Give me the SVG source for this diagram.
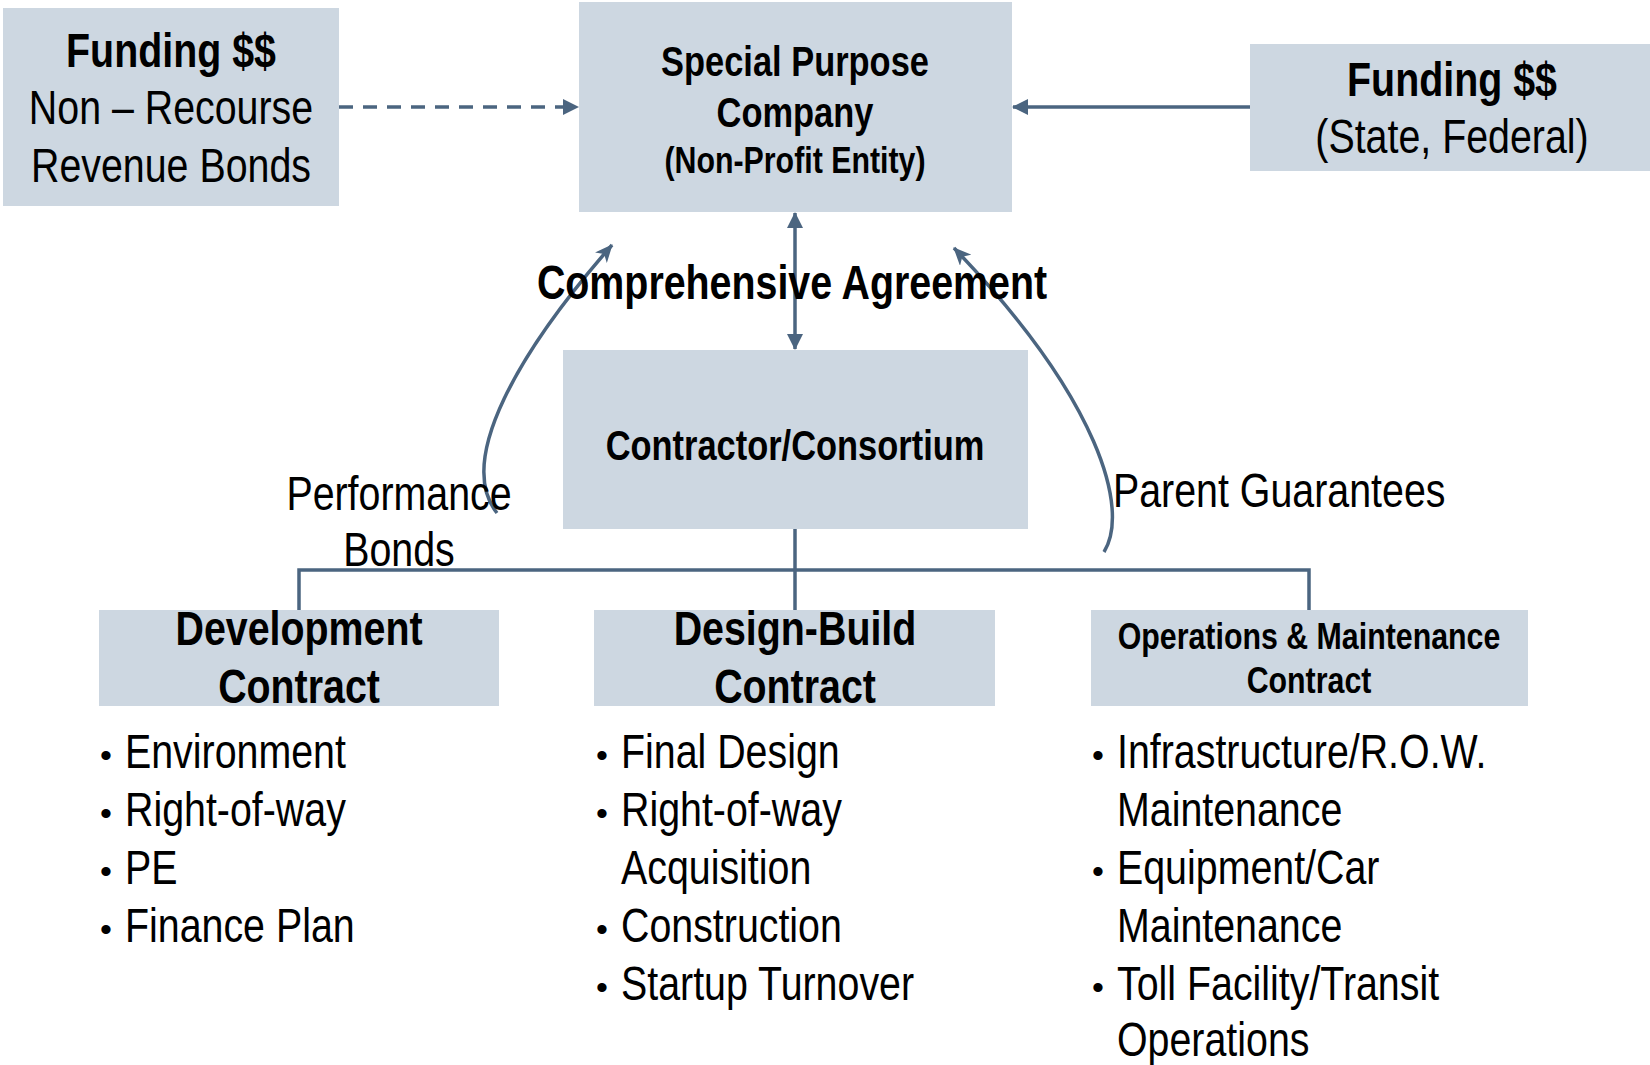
<svg xmlns="http://www.w3.org/2000/svg" width="1650" height="1065" viewBox="0 0 1650 1065">
<defs>
<style>
.box{fill:#cdd7e1}
.t{font-family:"Liberation Sans",Arial,sans-serif;fill:#000;text-anchor:middle}
.b{font-weight:bold}
.l{text-anchor:start}
.f48{font-size:48px}
.f42{font-size:42px}
.f37{font-size:37px}
.bul{font-size:34px}
.con{fill:none;stroke:#4b6580;stroke-width:3.5}
</style>
<marker id="tri" viewBox="0 0 16 16" markerUnits="userSpaceOnUse" markerWidth="16" markerHeight="16" refX="15" refY="8" orient="auto-start-reverse">
<path d="M0,0 L16,8 L0,16 z" fill="#4b6580"/>
</marker>
<marker id="stl" viewBox="0 0 18 16" markerUnits="userSpaceOnUse" markerWidth="18" markerHeight="16" refX="17" refY="8" orient="auto">
<path d="M0,0 L18,8 L0,16 L5,8 z" fill="#4b6580"/>
</marker>
</defs>
<rect width="1650" height="1065" fill="#fff"/>
<g id="connectors">
<line class="con" x1="339" y1="107" x2="578" y2="107" stroke-dasharray="14 10" marker-end="url(#tri)"/>
<line class="con" x1="1250" y1="107" x2="1013" y2="107" marker-end="url(#tri)"/>
<line class="con" x1="795" y1="213" x2="795" y2="349" marker-start="url(#tri)" marker-end="url(#tri)"/>
<path class="con" d="M497,513 C455,460 520,350 612,245" marker-end="url(#stl)"/>
<path class="con" d="M1104,552 C1130,510 1100,400 954,248" marker-end="url(#stl)"/>
<polyline class="con" points="299,610 299,570 1309,570 1309,610"/>
<line class="con" x1="795" y1="529" x2="795" y2="610"/>
</g>
<g id="funding-bonds">
<rect class="box" x="3" y="8" width="336" height="198"/>
<text class="t b f48" transform="matrix(.82 0 0 1 171 0)" x="0" y="67">Funding $$</text>
<text class="t f48" transform="matrix(.82 0 0 1 171 0)" x="0" y="124">Non – Recourse</text>
<text class="t f48" transform="matrix(.82 0 0 1 171 0)" x="0" y="182">Revenue Bonds</text>
</g>
<g id="spc">
<rect class="box" x="579" y="2" width="433" height="210"/>
<text class="t b f42" transform="matrix(.82 0 0 1 795 0)" x="0" y="76">Special Purpose</text>
<text class="t b f42" transform="matrix(.82 0 0 1 795 0)" x="0" y="127">Company</text>
<text class="t b f37" transform="matrix(.82 0 0 1 795 0)" x="0" y="173">(Non-Profit Entity)</text>
</g>
<g id="funding-state">
<rect class="box" x="1250" y="44" width="400" height="127"/>
<text class="t b f48" transform="matrix(.82 0 0 1 1452 0)" x="0" y="96">Funding $$</text>
<text class="t f48" transform="matrix(.82 0 0 1 1452 0)" x="0" y="153">(State, Federal)</text>
</g>
<g id="label-agreement">
<text class="t b f48" transform="matrix(.82 0 0 1 792 0)" x="0" y="299">Comprehensive Agreement</text>
</g>
<g id="contractor">
<rect class="box" x="563" y="350" width="465" height="179"/>
<text class="t b f42" transform="matrix(.82 0 0 1 795 0)" x="0" y="460">Contractor/Consortium</text>
</g>
<g id="label-performance">
<text class="t f48" transform="matrix(.82 0 0 1 399 0)" x="0" y="510">Performance</text>
<text class="t f48" transform="matrix(.82 0 0 1 399 0)" x="0" y="566">Bonds</text>
</g>
<g id="label-parent">
<text class="t l f48" transform="matrix(.82 0 0 1 1113 0)" x="0" y="507">Parent Guarantees</text>
</g>
<g id="development">
<rect class="box" x="99" y="610" width="400" height="96"/>
<text class="t b f48" transform="matrix(.82 0 0 1 299 0)" x="0" y="645">Development</text>
<text class="t b f48" transform="matrix(.82 0 0 1 299 0)" x="0" y="703">Contract</text>
<text class="t l bul" x="100" y="767">•</text>
<text class="t l f48" transform="matrix(.82 0 0 1 125 0)" x="0" y="768">Environment</text>
<text class="t l bul" x="100" y="825">•</text>
<text class="t l f48" transform="matrix(.82 0 0 1 125 0)" x="0" y="826">Right-of-way</text>
<text class="t l bul" x="100" y="883">•</text>
<text class="t l f48" transform="matrix(.82 0 0 1 125 0)" x="0" y="884">PE</text>
<text class="t l bul" x="100" y="941">•</text>
<text class="t l f48" transform="matrix(.82 0 0 1 125 0)" x="0" y="942">Finance Plan</text>
</g>
<g id="design-build">
<rect class="box" x="594" y="610" width="401" height="96"/>
<text class="t b f48" transform="matrix(.82 0 0 1 795 0)" x="0" y="645">Design-Build</text>
<text class="t b f48" transform="matrix(.82 0 0 1 795 0)" x="0" y="703">Contract</text>
<text class="t l bul" x="596" y="767">•</text>
<text class="t l f48" transform="matrix(.82 0 0 1 621 0)" x="0" y="768">Final Design</text>
<text class="t l bul" x="596" y="825">•</text>
<text class="t l f48" transform="matrix(.82 0 0 1 621 0)" x="0" y="826">Right-of-way</text>
<text class="t l f48" transform="matrix(.82 0 0 1 621 0)" x="0" y="884">Acquisition</text>
<text class="t l bul" x="596" y="941">•</text>
<text class="t l f48" transform="matrix(.82 0 0 1 621 0)" x="0" y="942">Construction</text>
<text class="t l bul" x="596" y="999">•</text>
<text class="t l f48" transform="matrix(.82 0 0 1 621 0)" x="0" y="1000">Startup Turnover</text>
</g>
<g id="om">
<rect class="box" x="1091" y="610" width="437" height="96"/>
<text class="t b f37" transform="matrix(.82 0 0 1 1309 0)" x="0" y="649">Operations &amp; Maintenance</text>
<text class="t b f37" transform="matrix(.82 0 0 1 1309 0)" x="0" y="693">Contract</text>
<text class="t l bul" x="1092" y="767">•</text>
<text class="t l f48" transform="matrix(.82 0 0 1 1117 0)" x="0" y="768">Infrastructure/R.O.W.</text>
<text class="t l f48" transform="matrix(.82 0 0 1 1117 0)" x="0" y="826">Maintenance</text>
<text class="t l bul" x="1092" y="883">•</text>
<text class="t l f48" transform="matrix(.82 0 0 1 1117 0)" x="0" y="884">Equipment/Car</text>
<text class="t l f48" transform="matrix(.82 0 0 1 1117 0)" x="0" y="942">Maintenance</text>
<text class="t l bul" x="1092" y="999">•</text>
<text class="t l f48" transform="matrix(.82 0 0 1 1117 0)" x="0" y="1000">Toll Facility/Transit</text>
<text class="t l f48" transform="matrix(.82 0 0 1 1117 0)" x="0" y="1056">Operations</text>
</g>
</svg>
